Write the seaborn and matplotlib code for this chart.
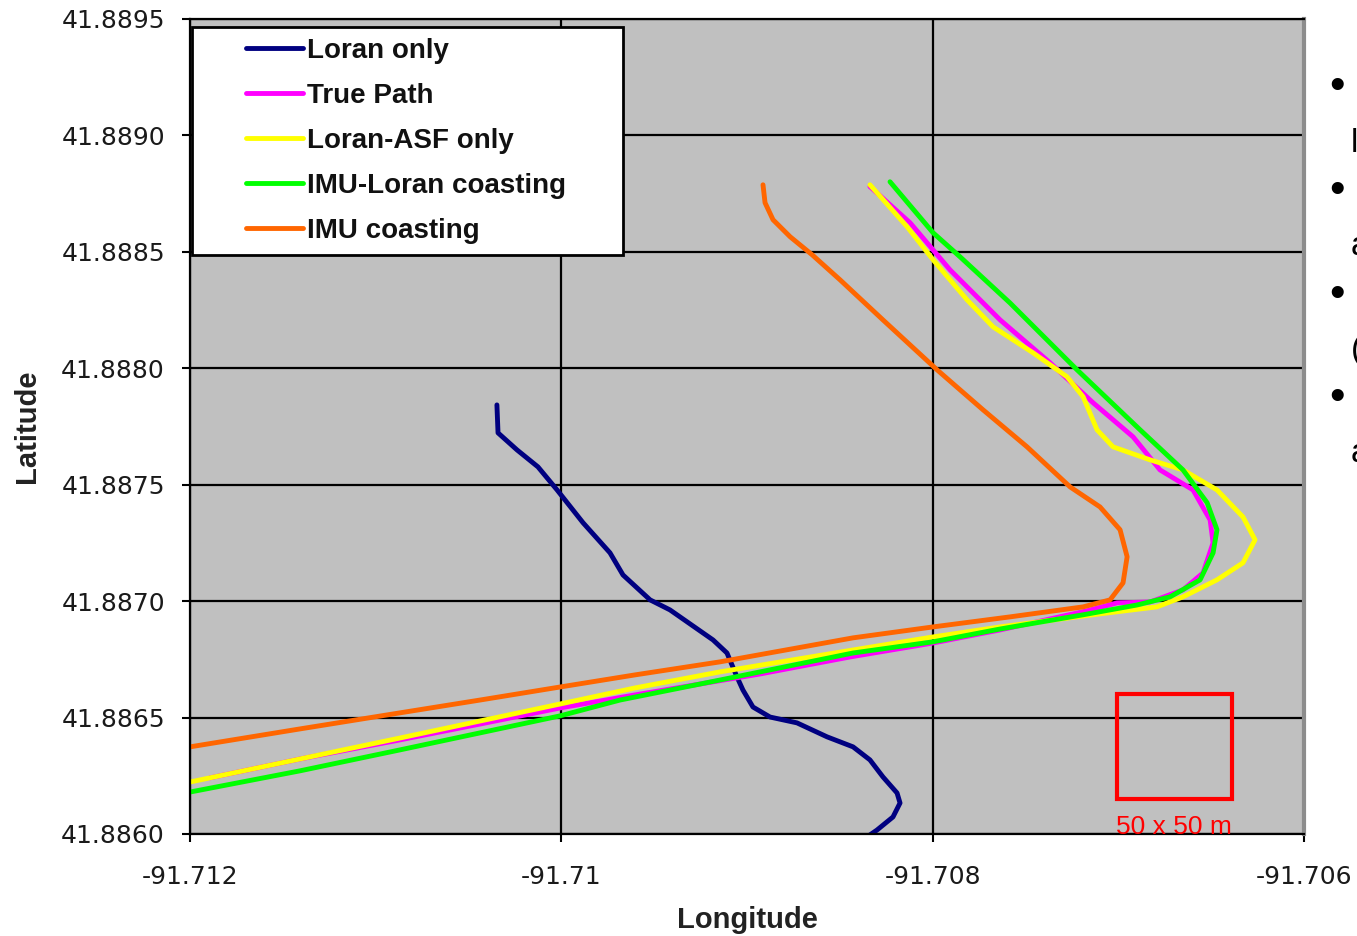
import matplotlib
matplotlib.use("Agg")
import matplotlib.pyplot as plt
from matplotlib.lines import Line2D
from matplotlib.patches import Rectangle
from matplotlib.ticker import FixedLocator, FuncFormatter
import numpy as np
import pandas as pd
import seaborn as sns

# ── Data ──────────────────────────────────────────────────────────────────────
PATHS = ["Loran only", "True Path", "Loran-ASF only", "IMU-Loran coasting", "IMU coasting"]
COLORS = ["#000080", "#FF00FF", "#FFFF00", "#00FF00", "#FF6600"]

loran_lon = [-91.710347, -91.710341, -91.710239, -91.710126, -91.710023, -91.709883,
             -91.709738, -91.709668, -91.709522, -91.709415, -91.709183, -91.709108,
             -91.709054, -91.709022, -91.708968, -91.708876, -91.708731, -91.708569,
             -91.708429, -91.708338, -91.708268, -91.708192, -91.708176, -91.708214,
             -91.708300, -91.708338]
loran_lat = [41.887842, 41.887722, 41.887649, 41.887576, 41.887477, 41.887336,
             41.887207, 41.887112, 41.887005, 41.886962, 41.886833, 41.886777,
             41.886674, 41.886618, 41.886545, 41.886502, 41.886477, 41.886417,
             41.886374, 41.886318, 41.886245, 41.886176, 41.886133, 41.886073,
             41.886017, 41.885996]

true_lon = [-91.708338, -91.708122, -91.707907, -91.707637, -91.707368, -91.707136,
            -91.706921, -91.706776, -91.706598, -91.706506, -91.706490, -91.706544,
            -91.706652, -91.706829, -91.707007, -91.707169, -91.707637, -91.707998,
            -91.708445, -91.708930, -91.709603, -91.710007, -91.710438, -91.710869,
            -91.711408, -91.711892]
true_lat = [41.888779, 41.888624, 41.888422, 41.888207, 41.888023, 41.887851,
            41.887705, 41.887563, 41.887477, 41.887348, 41.887250, 41.887121,
            41.887048, 41.886996, 41.886992, 41.886958, 41.886876, 41.886820,
            41.886760, 41.886687, 41.886597, 41.886541, 41.886472, 41.886404,
            41.886322, 41.886241]

asf_lon = [-91.708338, -91.708138, -91.707998, -91.707815, -91.707675, -91.707460,
           -91.707277, -91.707190, -91.707115, -91.707029, -91.706829, -91.706652,
           -91.706469, -91.706329, -91.706264, -91.706329, -91.706469, -91.706652,
           -91.706792, -91.707099, -91.707637, -91.707998, -91.708429, -91.709145,
           -91.709603, -91.710007, -91.710438, -91.710869, -91.711408, -91.712000]
asf_lat = [41.888787, 41.888607, 41.888465, 41.888293, 41.888177, 41.888066,
           41.887963, 41.887877, 41.887735, 41.887662, 41.887606, 41.887563,
           41.887477, 41.887361, 41.887263, 41.887164, 41.887091, 41.887018,
           41.886975, 41.886945, 41.886889, 41.886846, 41.886790, 41.886696,
           41.886627, 41.886558, 41.886485, 41.886412, 41.886322, 41.886223]

imu_loran_lon = [-91.708230, -91.707998, -91.707853, -91.707584, -91.707223, -91.706883,
                 -91.706652, -91.706522, -91.706469, -91.706490, -91.706560, -91.706722,
                 -91.706900, -91.707190, -91.707637, -91.707998, -91.708429, -91.709145,
                 -91.709684, -91.710007, -91.710438, -91.710869, -91.711408, -91.712000]
imu_loran_lat = [41.888800, 41.888581, 41.888478, 41.888280, 41.887993, 41.887735,
                 41.887563, 41.887422, 41.887306, 41.887207, 41.887091, 41.887018,
                 41.886983, 41.886941, 41.886880, 41.886825, 41.886777, 41.886661,
                 41.886575, 41.886507, 41.886434, 41.886361, 41.886271, 41.886180]

imu_lon = [-91.708914, -91.708903, -91.708860, -91.708768, -91.708650, -91.708499,
           -91.708268, -91.707977, -91.707729, -91.707492, -91.707260, -91.707099,
           -91.706991, -91.706953, -91.706975, -91.707045, -91.707190, -91.707584,
           -91.707998, -91.708429, -91.709145, -91.709603, -91.710007, -91.710438,
           -91.710869, -91.711408, -91.712000]
imu_lat = [41.888787, 41.888710, 41.888637, 41.888564, 41.888487, 41.888379,
           41.888207, 41.887993, 41.887821, 41.887662, 41.887490, 41.887404,
           41.887306, 41.887190, 41.887078, 41.887005, 41.886975, 41.886932,
           41.886889, 41.886842, 41.886739, 41.886683, 41.886631, 41.886575,
           41.886520, 41.886451, 41.886374]

x_ticks = [-91.712, -91.710, -91.708, -91.706]
y_ticks = [41.8860, 41.8865, 41.8870, 41.8875, 41.8880, 41.8885, 41.8890, 41.8895]

# 50 x 50 m scale box
box_lon, box_lat = -91.70701, 41.88615
box_w, box_h = 0.00062, 0.00045
box_label = "50 x 50 m"

# slide text cut off at the right edge of the picture
side_bullets = ["•", "•", "•", "•"]
side_cont = ["l", "a", "(", "a"]

# ── Build long table ──────────────────────────────────────────────────────────
series = [(loran_lon, loran_lat), (true_lon, true_lat), (asf_lon, asf_lat),
          (imu_loran_lon, imu_loran_lat), (imu_lon, imu_lat)]
frames = []
for name, (lon, lat) in zip(PATHS, series):
    frames.append(pd.DataFrame({"lon": lon, "lat": lat, "path": name}))
df = pd.concat(frames, ignore_index=True)

# ── Plot ──────────────────────────────────────────────────────────────────────
sns.set_style("ticks")
plt.rcParams["font.family"] = ["Liberation Sans", "DejaVu Sans"]

fig = plt.figure(figsize=(13.57, 9.36), dpi=100)
ax = fig.add_axes([0.140, 0.109, 0.821, 0.871])
ax.set_facecolor("#C0C0C0")
ax.set_axisbelow(True)

sns.lineplot(data=df, x="lon", y="lat", hue="path", hue_order=PATHS,
             palette=COLORS, sort=False, estimator=None, linewidth=3.5,
             legend=False, ax=ax)
for ln in ax.get_lines():
    ln.set_solid_joinstyle("round")

ax.set_xlim(x_ticks[0], x_ticks[-1])
ax.set_ylim(y_ticks[0], y_ticks[-1])
ax.xaxis.set_major_locator(FixedLocator(x_ticks))
ax.yaxis.set_major_locator(FixedLocator(y_ticks))
ax.xaxis.set_major_formatter(FuncFormatter(lambda v, p: f"{v:g}"))
ax.yaxis.set_major_formatter(FuncFormatter(lambda v, p: f"{v:.4f}"))
ax.grid(True, color="black", linewidth=1.6)

ax.tick_params(axis="both", direction="out", length=6, width=1.5,
               color="black", pad=12, labelsize=18, labelcolor="#1a1a1a")
ax.tick_params(axis="x", pad=16)
for lab in ax.get_xticklabels() + ax.get_yticklabels():
    lab.set_family("DejaVu Sans")

for side in ["left", "bottom", "top"]:
    ax.spines[side].set_color("black")
    ax.spines[side].set_linewidth(1.6)
ax.spines["right"].set_color("#8C8C8C")
ax.spines["right"].set_linewidth(3)

ax.set_xlabel("Longitude", fontsize=21, fontweight="bold", color="#222222")
ax.set_ylabel("Latitude", fontsize=21, fontweight="bold", color="#222222")
ax.xaxis.set_label_coords(0.5, -0.088)
ax.yaxis.set_label_coords(-0.134, 0.5)

# scale box
ax.add_patch(Rectangle((box_lon, box_lat), box_w, box_h, fill=False,
                       edgecolor="#FF0000", linewidth=3, zorder=3))
ax.text(box_lon + box_w / 2, box_lat - 0.00012, box_label, color="#FF0000",
        fontsize=19, ha="center", va="center", zorder=3)

# legend
handles = [Line2D([0], [0], color=c, linewidth=3.5) for c in COLORS]
leg = ax.legend(handles, PATHS, loc="upper left",
                bbox_to_anchor=(0.0018, 0.0, 0.387, 0.990), mode="expand",
                prop={"family": "Liberation Sans", "weight": "bold", "size": 20},
                frameon=True, fancybox=False, framealpha=1, facecolor="white",
                edgecolor="black", borderpad=0.4, labelspacing=0.68,
                handlelength=3.6, handletextpad=0.15, borderaxespad=0)
leg.get_frame().set_linewidth(2)
leg.set_zorder(5)
for txt in leg.get_texts():
    txt.set_color("#111111")
for ln in leg.get_lines():
    xd = np.asarray(ln.get_xdata(), dtype=float)
    ln.set_xdata(np.linspace(xd[0] + 31, xd[-1], len(xd)))

# cut-off bullet list on the right edge
W, H = 1357, 936
for i, (b, c) in enumerate(zip(side_bullets, side_cont)):
    yb = 88 + i * 103.5
    fig.text(1337 / W, 1 - yb / H, b, fontsize=32, ha="center", va="center",
             color="black")
    fig.text(1351 / W, 1 - (yb + 55) / H, c, fontsize=24, ha="left",
             va="center", color="black")

fig.savefig("out.png", dpi=100)
plt.close(fig)
